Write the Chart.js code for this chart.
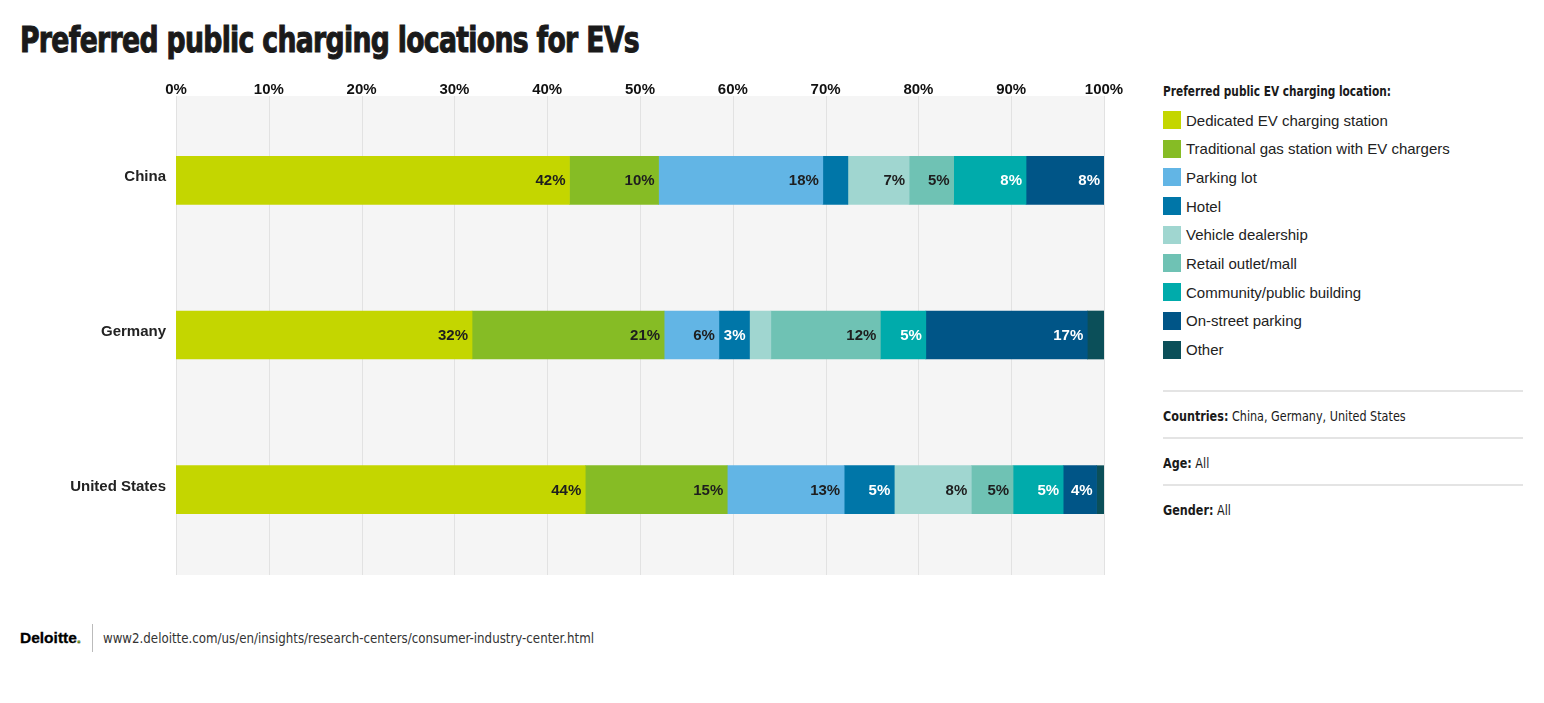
<!DOCTYPE html>
<html>
<head>
<meta charset="utf-8">
<script src="https://cdn.jsdelivr.net/npm/chart.js@4.4.0/dist/chart.umd.min.js"></script>
<style>
  body { margin: 0; width: 1544px; height: 703px; position: relative; overflow: hidden; background: #fff;
         font-family: "Liberation Sans", Arial, sans-serif; color: #1a1a1a; }
  #title { position: absolute; left: 20px; top: 23px; font-family: "DejaVu Sans Condensed", sans-serif;
           font-weight: 700; font-size: 35px; line-height: 35px; letter-spacing: -0.8px; -webkit-text-stroke: 1px #1a1a1a;
           white-space: nowrap; transform: scaleX(0.847); transform-origin: 0 0; }
  #chartBox { position: absolute; left: 0; top: 0; width: 1140px; height: 600px; }
  #legend { position: absolute; left: 1163px; top: 80px; width: 360px; }
  .narrow { font-family: "DejaVu Sans Condensed", sans-serif; font-size: 14px; white-space: nowrap;
            display: inline-block; transform-origin: 0 50%; }
  #legend .head { font-weight: 700; height: 22px; line-height: 22px; margin-bottom: 9px; transform: scaleX(0.84); }
  .item { height: 18px; margin-bottom: 10.7px; display: flex; align-items: center; font-size: 15px; color: #222; }
  .sw { width: 18px; height: 18px; margin-right: 5px; flex: none; }
  .notes { position: absolute; left: 1163px; top: 390px; width: 360px; }
  .notes > div { border-top: 2px solid #e4e4e4; height: 45px; line-height: 48px; }
  .notes .narrow { transform: scaleX(0.89); }
  #footer { position: absolute; left: 20px; top: 624px; height: 28px; display: flex; align-items: center; }
  #footer .logo { font-weight: 700; font-size: 15.5px; color: #000; padding-right: 11px; -webkit-text-stroke: 0.3px #000; }
  #footer .logo span { color: #86bc25; }
  #footer .bar { width: 1px; height: 28px; background: #bbb; margin-right: 10px; }
  #footer .url { color: #333; transform: scaleX(0.94); }
</style>
</head>
<body>
<div id="title">Preferred public charging locations for EVs</div>
<div id="chartBox"><canvas id="evChart"></canvas></div>
<div id="legend"><div class="head narrow">Preferred public EV charging location:</div></div>
<div class="notes">
  <div><span class="narrow"><b>Countries:</b> China, Germany, United States</span></div>
  <div><span class="narrow"><b>Age:</b> All</span></div>
  <div><span class="narrow"><b>Gender:</b> All</span></div>
</div>
<div id="footer"><span class="logo">Deloitte<span>.</span></span><span class="bar"></span><span class="url narrow">www2.deloitte.com/us/en/insights/research-centers/consumer-industry-center.html</span></div>

<script>
// Data (share of respondents, %)
const countries = ["China", "Germany", "United States"];
const locations = ["Dedicated EV charging station", "Traditional gas station with EV chargers", "Parking lot", "Hotel",
  "Vehicle dealership", "Retail outlet/mall", "Community/public building", "On-street parking", "Other"];
const china = [42.4, 9.6, 17.7, 2.7, 6.6, 4.8, 7.8, 8.4, 0];
const germany = [31.9, 20.7, 5.9, 3.3, 2.3, 11.8, 4.9, 17.4, 1.8];
const unitedStates = [44.1, 15.3, 12.6, 5.4, 8.3, 4.5, 5.4, 3.6, 0.8];
const xTicks = [0, 10, 20, 30, 40, 50, 60, 70, 80, 90, 100];

const colors = ["#c4d600", "#86bc25", "#62b5e5", "#0076a8", "#a0d6d0", "#6fc2b4", "#00abab", "#005587", "#0b4f59"];
const labelColors = ["#1e1e1e", "#1e1e1e", "#1e1e1e", "#fff", "#1e1e1e", "#1e1e1e", "#fff", "#fff", "#fff"];

const datasets = locations.map((name, i) => ({
    label: name,
    data: [china[i], germany[i], unitedStates[i]],
    backgroundColor: colors[i],
    borderWidth: 0,
    barThickness: 48,
}));

// gray plot background + vertical grid, a bit taller than the chart area
const plotBackground = {
    id: "plotBackground",
    beforeDatasetsDraw(chart) {
        const { ctx, chartArea: a, scales } = chart;
        ctx.save();
        ctx.fillStyle = "#f5f5f5";
        ctx.fillRect(a.left, a.top - 7, a.right - a.left + 1, a.bottom - a.top + 15);
        ctx.strokeStyle = "#e2e2e2";
        ctx.lineWidth = 1;
        xTicks.forEach((t) => {
            const x = Math.round(scales.x.getPixelForValue(t)) + 0.5;
            ctx.beginPath();
            ctx.moveTo(x, a.top - 7);
            ctx.lineTo(x, a.bottom + 8);
            ctx.stroke();
        });
        ctx.restore();
    },
};

// percent labels at the right end of each segment
const segmentLabels = {
    id: "segmentLabels",
    afterDatasetsDraw(chart) {
        const ctx = chart.ctx;
        ctx.save();
        ctx.font = "bold 15px 'Liberation Sans', Arial, sans-serif";
        ctx.textAlign = "right";
        ctx.textBaseline = "middle";
        chart.data.datasets.forEach((ds, i) => {
            chart.getDatasetMeta(i).data.forEach((bar, j) => {
                const v = ds.data[j];
                if (v < 3) return;
                ctx.fillStyle = labelColors[i];
                ctx.fillText(Math.round(v) + "%", bar.x - 4, bar.y + 1);
            });
        });
        ctx.restore();
    },
};

new Chart(document.getElementById("evChart"), {
    type: "bar",
    data: { labels: countries, datasets },
    plugins: [plotBackground, segmentLabels],
    options: {
        indexAxis: "y",
        responsive: true,
        maintainAspectRatio: false,
        animation: false,
        layout: { padding: { top: 60, right: 36, bottom: 33, left: 0 } },
        plugins: { legend: { display: false }, tooltip: { enabled: false } },
        scales: {
            x: {
                stacked: true,
                position: "top",
                min: 0,
                max: 100,
                grid: { display: false, drawTicks: false },
                border: { display: false },
                afterFit: (s) => { s.height = 43; },
                afterBuildTicks: (s) => { s.ticks = xTicks.map((v) => ({ value: v })); },
                ticks: {
                    padding: 4,
                    color: "#111",
                    font: { family: "'Liberation Sans', Arial, sans-serif", size: 15, weight: "bold" },
                    callback: (v) => v + "%",
                },
            },
            y: {
                stacked: true,
                grid: { display: false, drawTicks: false },
                border: { display: false },
                afterFit: (s) => { s.width = 176; },
                ticks: {
                    padding: 10,
                    labelOffset: -3,
                    color: "#222",
                    font: { family: "'Liberation Sans', Arial, sans-serif", size: 15, weight: "bold" },
                },
            },
        },
    },
});

// legend from the same arrays
const legend = document.getElementById("legend");
locations.forEach((name, i) => {
    const row = document.createElement("div");
    row.className = "item";
    row.innerHTML = `<span class="sw" style="background:${colors[i]}"></span>${name}`;
    legend.appendChild(row);
});
</script>
</body>
</html>
